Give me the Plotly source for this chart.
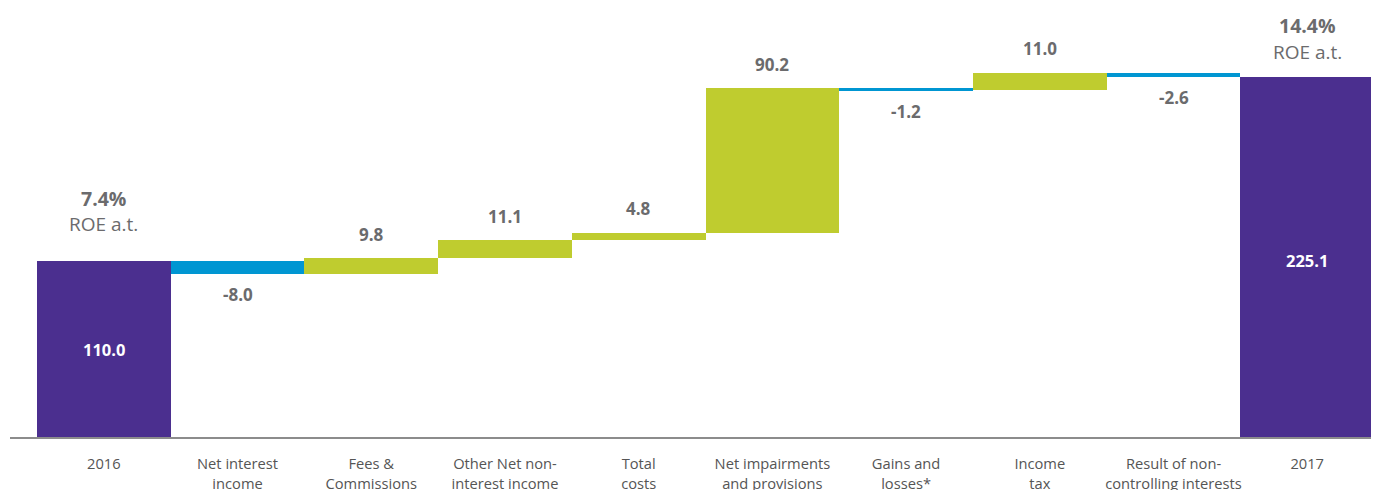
import plotly.graph_objects as go

categories = ["2016", "Net interest<br>income", "Fees &<br>Commissions", "Other Net non-<br>interest income",
              "Total<br>costs", "Net impairments<br>and provisions", "Gains and<br>losses*", "Income<br>tax",
              "Result of non-<br>controlling interests", "2017"]
measures = ["absolute", "relative", "relative", "relative", "relative", "relative", "relative", "relative", "relative", "total"]
values = [110.0, -8.0, 9.8, 11.1, 4.8, 90.2, -1.2, 11.0, -2.6, 225.1]
roe_labels = {0: "7.4%", 9: "14.4%"}

PURPLE = "#4B2F8F"
GREEN = "#BFCC2F"
BLUE = "#0096D2"
GREY = "#6B6B6D"
FONT = "Open Sans"

# compute bases and colors from data
bases, heights, colors = [], [], []
running = 0.0
for m, v in zip(measures, values):
    if m == "absolute":
        bases.append(0); heights.append(v); colors.append(PURPLE); running = v
    elif m == "total":
        bases.append(0); heights.append(running); colors.append(PURPLE)
    else:
        if v >= 0:
            bases.append(running); heights.append(v); colors.append(GREEN)
        else:
            bases.append(running + v); heights.append(-v); colors.append(BLUE)
        running += v

x = list(range(len(categories)))

fig = go.Figure()
fig.add_trace(go.Bar(x=x, y=heights, base=bases, marker=dict(color=colors, line=dict(width=0)),
                     width=1.0, hoverinfo="skip", showlegend=False))

annotations = []
for i, (m, v, b, h) in enumerate(zip(measures, values, bases, heights)):
    if m in ("absolute", "total"):
        annotations.append(dict(x=i, y=(b + h) / 2, yshift=(0 if m == "absolute" else -4), text=f"<b>{v:.1f}</b>",
                                showarrow=False, font=dict(family=FONT, size=16.5, color="white")))
    elif v >= 0:
        annotations.append(dict(x=i, y=b + h, yshift=24, text=f"<b>{v:.1f}</b>", showarrow=False,
                                font=dict(family=FONT, size=17, color=GREY)))
    else:
        annotations.append(dict(x=i, y=b, yshift=-21, text=f"<b>{v:.1f}</b>", showarrow=False,
                                font=dict(family=FONT, size=17, color=GREY)))

roe_shifts = {0: (63, 37), 9: (51, 25)}
for i, lab in roe_labels.items():
    top = bases[i] + heights[i]
    s1, s2 = roe_shifts[i]
    annotations.append(dict(x=i, y=top, yshift=s1, text=f"<b>{lab}</b>", showarrow=False,
                            font=dict(family=FONT, size=19.5, color=GREY)))
    annotations.append(dict(x=i, y=top, yshift=s2, text="ROE a.t.", showarrow=False,
                            font=dict(family=FONT, size=19, color=GREY)))

fig.update_layout(
    width=1379, height=490,
    margin=dict(l=2, r=8, t=13, b=61),
    paper_bgcolor="white", plot_bgcolor="white",
    bargap=0,
    annotations=annotations,
    xaxis=dict(range=[-0.702, 9.537], tickmode="array", tickvals=x, ticktext=categories,
               showgrid=False, zeroline=False, showline=True, linecolor="#8C8C8C", linewidth=1.5,
               ticks="", tickfont=dict(family=FONT, size=14.7, color="#555555"), automargin=False,
               ticklabelstandoff=13),
    yaxis=dict(range=[0, 260], visible=False, automargin=False),
)

fig.write_html("out.html")
